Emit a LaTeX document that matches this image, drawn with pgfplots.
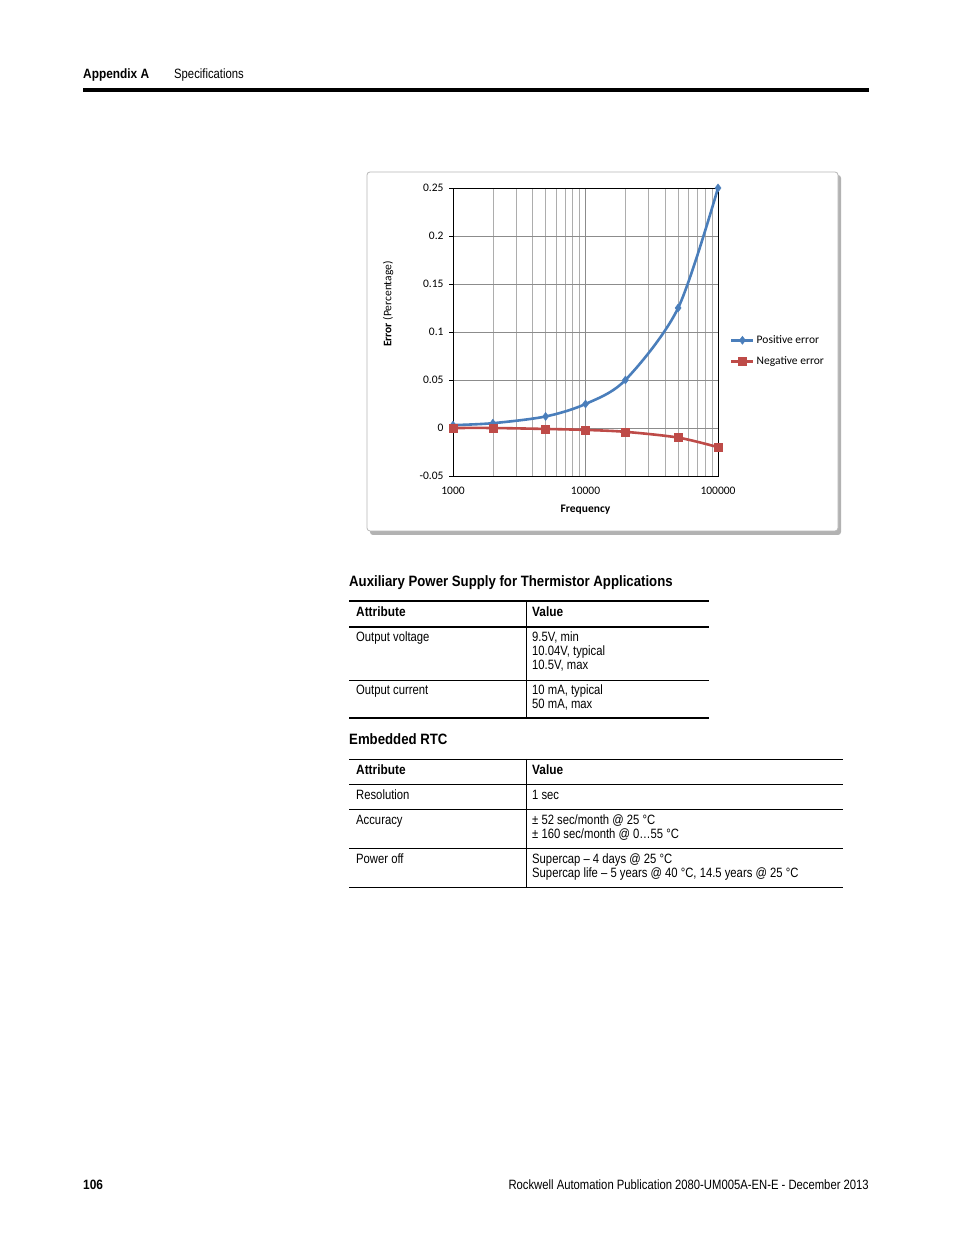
\documentclass[border=0pt]{standalone}
\usepackage{pgfplots}
\pgfplotsset{compat=1.18}
\usepackage{fontspec}
\setmainfont[FakeStretch=0.835,BoldFeatures={FakeStretch=0.88}]{Liberation Sans}
\newfontfamily\chartfont{Carlito}
\definecolor{xlblue}{RGB}{74,126,187}
\definecolor{xlred}{RGB}{190,75,72}
\newcommand{\body}{\fontsize{13.5}{14}\selectfont}
\newcommand{\bodyb}{\fontsize{13.5}{14}\selectfont\bfseries}
\newcommand{\head}{\fontsize{15}{16}\selectfont\bfseries}
\newcommand{\cf}{\chartfont\fontsize{11.5}{13}\selectfont}
\begin{document}
\begin{tikzpicture}[x=1pt,y=1pt]
\def\H{1234}
\fill[white] (0,-1) rectangle (954,1234);
% page header
\node[anchor=base west,inner sep=0,font=\bodyb] at (83,\H-79) {Appendix A};
\node[anchor=base west,inner sep=0,font=\body] at (174,\H-79) {Specifications};
\draw[line width=3.5pt] (83,\H-90) -- (869,\H-90);
% chart frame
\fill[black!30,rounded corners=3pt] (370,\H-175) rectangle (841,\H-535);
\draw[black!28,fill=white,rounded corners=3pt,line width=0.8pt] (367,\H-172) rectangle (838,\H-531);
\begin{axis}[
  at={(453pt,758pt)}, anchor=south west,
  scale only axis, width=265pt, height=288pt,
  xmode=log, xmin=1000, xmax=100000,
  ymin=-0.05, ymax=0.25,
  xtick={1000,10000,100000},
  xticklabels={1000,10000,100000},
  ytick={-0.05,0,0.05,0.1,0.15,0.2,0.25},
  yticklabels={-0.05,0,0.05,0.1,0.15,0.2,0.25},
  minor y tick num=0,
  ytick pos=left,
  grid=both,
  major grid style={black!45,line width=0.6pt},
  minor grid style={black!32,line width=0.6pt},
  axis line style={black,line width=0.8pt},
  tick align=outside,
  major tick length=4pt, minor tick length=0pt,
  xtick style={draw=none},
  ytick style={black,line width=0.6pt},
  ticklabel style={font=\cf},
  yticklabel style={xshift=-2pt},
  xticklabel style={yshift=-4pt},
  xlabel={\textbf{Frequency}},
  ylabel={\textbf{Error} (Percentage)},
  label style={font=\cf},
  xlabel style={at={(axis description cs:0.5,-0.118)},anchor=center},
  ylabel style={at={(axis description cs:-0.245,0.597)},anchor=center},
  legend style={at={(axis description cs:1.045,0.434)},anchor=west,
    draw=none,fill=none,font=\cf,
    row sep=8pt, inner sep=0pt},
  legend cell align=left,
  legend image code/.code={\draw[#1,mark repeat=2,mark phase=2] plot coordinates {(0pt,0pt)(11pt,0pt)(22pt,0pt)};},
  clip=false,
]
\addplot[xlblue,line width=2.6pt,smooth,mark=diamond*,mark size=4pt,mark options={line width=0.5pt}]
coordinates {(1000,0.003)(2000,0.005)(5000,0.012)(10000,0.025)(20000,0.05)(50000,0.125)(100000,0.25)};
\addlegendentry{Positive error}
\addplot[xlred,line width=2.6pt,smooth,mark=square*,mark size=4pt,mark options={line width=0.5pt}]
coordinates {(1000,0)(2000,0)(5000,-0.001)(10000,-0.002)(20000,-0.004)(50000,-0.01)(100000,-0.02)};
\addlegendentry{Negative error}
\end{axis}
% table 1
\node[anchor=base west,inner sep=0,font=\head] at (349,\H-587) {Auxiliary Power Supply for Thermistor Applications};
\draw[line width=2pt] (349,\H-601) -- (709,\H-601);
\draw[line width=2pt] (349,\H-627) -- (709,\H-627);
\draw[line width=0.9pt] (349,\H-680) -- (709,\H-680);
\draw[line width=2pt] (349,\H-718) -- (709,\H-718);
\draw[line width=0.9pt] (526,\H-601) -- (526,\H-718);
\node[anchor=base west,inner sep=0,font=\bodyb] at (356,\H-617) {Attribute};
\node[anchor=base west,inner sep=0,font=\bodyb] at (532,\H-617) {Value};
\node[anchor=base west,inner sep=0,font=\body] at (356,\H-642) {Output voltage};
\node[anchor=base west,inner sep=0,font=\body] at (532,\H-642) {9.5V, min};
\node[anchor=base west,inner sep=0,font=\body] at (532,\H-656) {10.04V, typical};
\node[anchor=base west,inner sep=0,font=\body] at (532,\H-670) {10.5V, max};
\node[anchor=base west,inner sep=0,font=\body] at (356,\H-695) {Output current};
\node[anchor=base west,inner sep=0,font=\body] at (532,\H-695) {10 mA, typical};
\node[anchor=base west,inner sep=0,font=\body] at (532,\H-709) {50 mA, max};
% table 2
\node[anchor=base west,inner sep=0,font=\head] at (349,\H-745) {Embedded RTC};
\draw[line width=0.9pt] (349,\H-759) -- (843,\H-759);
\draw[line width=0.9pt] (349,\H-784) -- (843,\H-784);
\draw[line width=0.9pt] (349,\H-809) -- (843,\H-809);
\draw[line width=0.9pt] (349,\H-848) -- (843,\H-848);
\draw[line width=0.9pt] (349,\H-887) -- (843,\H-887);
\draw[line width=0.9pt] (526,\H-759) -- (526,\H-887);
\node[anchor=base west,inner sep=0,font=\bodyb] at (356,\H-775) {Attribute};
\node[anchor=base west,inner sep=0,font=\bodyb] at (532,\H-775) {Value};
\node[anchor=base west,inner sep=0,font=\body] at (356,\H-800) {Resolution};
\node[anchor=base west,inner sep=0,font=\body] at (532,\H-800) {1 sec};
\node[anchor=base west,inner sep=0,font=\body] at (356,\H-825) {Accuracy};
\node[anchor=base west,inner sep=0,font=\body] at (532,\H-825) {± 52 sec/month @ 25 °C};
\node[anchor=base west,inner sep=0,font=\body] at (532,\H-839) {± 160 sec/month @ 0…55 °C};
\node[anchor=base west,inner sep=0,font=\body] at (356,\H-864) {Power off};
\node[anchor=base west,inner sep=0,font=\body] at (532,\H-864) {Supercap – 4 days @ 25 °C};
\node[anchor=base west,inner sep=0,font=\body] at (532,\H-878) {Supercap life – 5 years @ 40 °C, 14.5 years @ 25 °C};
% footer
\node[anchor=base west,inner sep=0,font=\bodyb] at (83,\H-1189) {106};
\node[anchor=base east,inner sep=0,font=\body] at (869,\H-1189) {Rockwell Automation Publication 2080-UM005A-EN-E - December 2013};
\end{tikzpicture}
\end{document}
